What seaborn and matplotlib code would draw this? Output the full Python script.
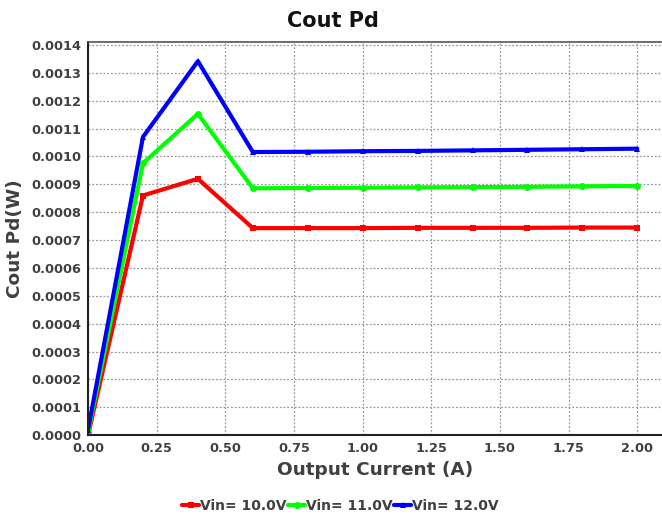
import pandas as pd
import matplotlib
matplotlib.use("Agg")
import matplotlib.pyplot as plt
import seaborn as sns

# Data
current = [0.0, 0.2, 0.4, 0.6, 0.8, 1.0, 1.2, 1.4, 1.6, 1.8, 2.0]
pd_10v = [0.0, 0.00086, 0.00092, 0.000743, 0.000743, 0.000743, 0.000744, 0.000744, 0.000744, 0.000745, 0.000745]
pd_11v = [0.00001, 0.000976, 0.001153, 0.000886, 0.000887, 0.000888, 0.000889, 0.000890, 0.000891, 0.000893, 0.000894]
pd_12v = [0.00002, 0.00107, 0.001342, 0.001016, 0.001017, 0.001019, 0.001020, 0.001022, 0.001024, 0.001026, 0.001028]
series_names = ["Vin= 10.0V", "Vin= 11.0V", "Vin= 12.0V"]

df = pd.DataFrame({
    "current": current * 3,
    "pd": pd_10v + pd_11v + pd_12v,
    "series": [n for n in series_names for _ in current],
})

sns.set_style("white")
plt.rcParams["font.family"] = ["DejaVu Sans"]
text_col = "#404040"

fig = plt.figure(figsize=(6.62, 5.15), dpi=100)
ax = fig.add_axes([0.133, 0.155, 0.867, 0.763])

palette = {"Vin= 10.0V": "#ff0000", "Vin= 11.0V": "#00ff00", "Vin= 12.0V": "#0000ff"}
markers = {"Vin= 10.0V": "s", "Vin= 11.0V": "o", "Vin= 12.0V": "^"}
sns.lineplot(data=df, x="current", y="pd", hue="series", style="series",
             palette=palette, markers=markers, dashes=False, linewidth=3,
             markersize=5, markeredgewidth=0, ax=ax, legend=True)

ax.set_xlim(0, 2.09)
ax.set_ylim(0, 0.00141)
ax.set_xticks([0, 0.25, 0.5, 0.75, 1.0, 1.25, 1.5, 1.75, 2.0])
ax.set_yticks([i * 0.0001 for i in range(15)])
ax.xaxis.set_major_formatter(matplotlib.ticker.FormatStrFormatter("%.2f"))
ax.yaxis.set_major_formatter(matplotlib.ticker.FormatStrFormatter("%.4f"))
ax.tick_params(labelsize=9.3, colors=text_col, length=0, pad=5)
for lab in ax.get_xticklabels() + ax.get_yticklabels():
    lab.set_fontweight("bold")

ax.grid(True, color="#999999", linestyle=(0, (1.5, 1.5)), linewidth=0.9)
for side in ["left", "bottom"]:
    ax.spines[side].set_color("#222222")
    ax.spines[side].set_linewidth(1.5)
ax.spines["top"].set_color("#555555")
ax.spines["top"].set_linewidth(1.2)
ax.spines["right"].set_visible(False)

fig.text(0.503, 0.96, "Cout Pd", ha="center", va="center",
         fontsize=15, fontweight="bold", color="#111111")
ax.set_xlabel("Output Current (A)", fontsize=13.3, fontweight="bold", color=text_col, labelpad=4)
ax.set_ylabel("Cout Pd(W)", fontsize=13.3, fontweight="bold", color=text_col, labelpad=5)

handles, labels = ax.get_legend_handles_labels()
ax.legend(handles, labels, loc="upper center", bbox_to_anchor=(0.44, -0.13),
          ncol=3, frameon=False, handlelength=1.2, handletextpad=0.1,
          columnspacing=0.1, prop={"size": 10, "weight": "bold"},
          labelcolor=text_col)

fig.savefig("out.png", dpi=100)
